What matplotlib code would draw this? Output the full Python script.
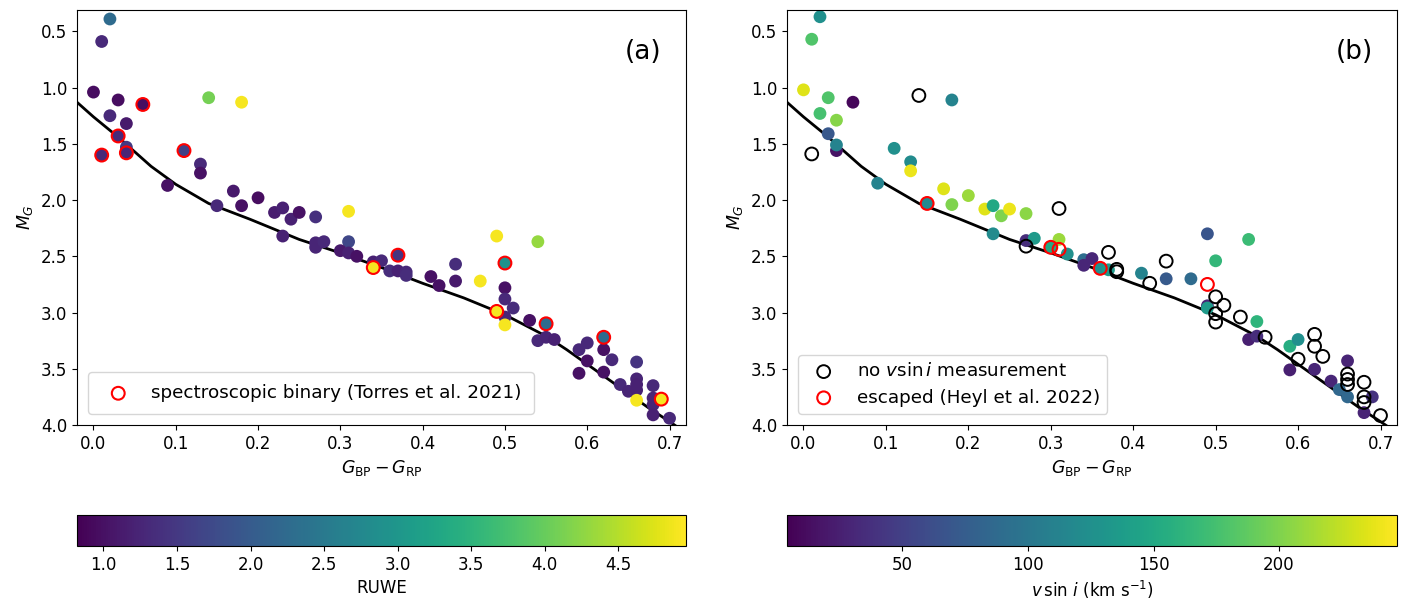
import numpy as np
import matplotlib
matplotlib.use("Agg")
import matplotlib.pyplot as plt
from matplotlib.colors import Normalize

plt.rcParams['font.family'] = ['DejaVu Sans']
plt.rcParams['font.size'] = 12

# ---------------- isochrone-like reference curve -------------
curve_x = [-0.02, 0.0, 0.03, 0.07, 0.10, 0.14, 0.19, 0.25, 0.30, 0.35, 0.40,
           0.45, 0.50, 0.55, 0.575, 0.60, 0.625, 0.65, 0.675, 0.70, 0.72]
curve_m = [1.13, 1.26, 1.44, 1.70, 1.86, 2.03, 2.17, 2.35, 2.47, 2.60, 2.74,
           2.87, 3.02, 3.21, 3.33, 3.46, 3.59, 3.72, 3.85, 3.97, 4.07]

# ---------------- panel (a): colour = RUWE ---------------------------------------
a_color = [0.02, 0.01, 0.00, 0.03, 0.06, 0.14, 0.18, 0.02, 0.04, 0.03,
           0.04, 0.04, 0.01, 0.11, 0.13, 0.13, 0.09, 0.15, 0.17, 0.18,
           0.20, 0.22, 0.23, 0.24, 0.25, 0.27, 0.31, 0.23, 0.27, 0.27,
           0.28, 0.31, 0.30, 0.31, 0.32, 0.34, 0.35, 0.34, 0.36, 0.37,
           0.37, 0.38, 0.38, 0.41, 0.42, 0.44, 0.44, 0.47, 0.49, 0.50,
           0.54, 0.50, 0.50, 0.51, 0.50, 0.49, 0.50, 0.53, 0.55, 0.54,
           0.55, 0.56, 0.62, 0.59, 0.60, 0.62, 0.60, 0.63, 0.59, 0.62,
           0.66, 0.64, 0.65, 0.66, 0.66, 0.66, 0.66, 0.68, 0.68, 0.68,
           0.69, 0.68, 0.70]
a_mag = [0.39, 0.59, 1.04, 1.11, 1.15, 1.09, 1.13, 1.25, 1.32, 1.43,
         1.53, 1.58, 1.60, 1.56, 1.68, 1.76, 1.87, 2.05, 1.92, 2.05,
         1.98, 2.11, 2.07, 2.17, 2.11, 2.15, 2.10, 2.32, 2.38, 2.42,
         2.37, 2.37, 2.45, 2.47, 2.50, 2.55, 2.54, 2.60, 2.63, 2.49,
         2.63, 2.64, 2.67, 2.68, 2.76, 2.57, 2.72, 2.72, 2.32, 2.56,
         2.37, 2.78, 2.88, 2.96, 3.04, 2.99, 3.11, 3.07, 3.10, 3.25,
         3.22, 3.24, 3.22, 3.33, 3.27, 3.33, 3.43, 3.42, 3.54, 3.53,
         3.44, 3.64, 3.70, 3.59, 3.64, 3.69, 3.78, 3.65, 3.76, 3.82,
         3.77, 3.91, 3.94]
a_ruwe = [2.25, 1.30, 0.95, 0.95, 0.95, 4.10, 4.90, 1.30, 1.10, 1.30,
          1.50, 1.25, 1.30, 1.60, 1.30, 1.00, 1.00, 1.30, 1.10, 1.00,
          0.95, 1.15, 1.20, 1.20, 1.00, 1.40, 4.90, 1.20, 1.25, 1.25,
          1.30, 1.70, 1.10, 1.20, 1.00, 1.20, 1.30, 4.90, 1.35, 1.45,
          1.20, 1.30, 1.35, 1.00, 1.00, 1.35, 1.10, 4.90, 4.90, 2.90,
          4.30, 1.00, 1.30, 1.35, 1.25, 4.90, 4.90, 1.00, 2.25, 1.30,
          1.25, 1.20, 2.25, 1.30, 1.30, 1.00, 1.00, 1.30, 1.00, 1.00,
          1.45, 1.30, 1.25, 1.25, 1.20, 1.20, 4.90, 1.30, 1.25, 1.25,
          4.90, 1.20, 1.30]
# spectroscopic binaries (Torres et al. 2021)
bin_color = [0.06, 0.03, 0.04, 0.01, 0.11, 0.34, 0.37, 0.50, 0.49, 0.55, 0.62, 0.69]
bin_mag = [1.15, 1.43, 1.58, 1.60, 1.56, 2.60, 2.49, 2.56, 2.99, 3.10, 3.22, 3.77]

# ---------------- panel (b): colour = v sin i -------------------------------------
b_color = [0.02, 0.01, 0.00, 0.03, 0.06, 0.18, 0.02, 0.04, 0.03, 0.04,
           0.04, 0.11, 0.13, 0.13, 0.09, 0.15, 0.17, 0.18, 0.20, 0.22,
           0.23, 0.24, 0.25, 0.27, 0.23, 0.27, 0.28, 0.31, 0.30, 0.32,
           0.34, 0.34, 0.35, 0.36, 0.37, 0.41, 0.44, 0.47, 0.49, 0.54,
           0.50, 0.49, 0.49, 0.55, 0.54, 0.55, 0.59, 0.60, 0.59, 0.62,
           0.64, 0.65, 0.66, 0.66, 0.69, 0.68]
b_mag = [0.37, 0.57, 1.02, 1.09, 1.13, 1.11, 1.23, 1.29, 1.41, 1.56,
         1.51, 1.54, 1.66, 1.74, 1.85, 2.03, 1.90, 2.04, 1.96, 2.08,
         2.05, 2.14, 2.08, 2.12, 2.30, 2.36, 2.34, 2.35, 2.42, 2.48,
         2.53, 2.58, 2.52, 2.61, 2.62, 2.65, 2.70, 2.70, 2.30, 2.35,
         2.54, 2.94, 2.96, 3.08, 3.24, 3.21, 3.30, 3.24, 3.51, 3.505,
         3.61, 3.685, 3.75, 3.43, 3.75, 3.89]
b_vsini = [125, 180, 235, 180, 8, 113, 175, 203, 70, 16,
           113, 125, 120, 240, 113, 118, 235, 200, 210, 235,
           150, 200, 240, 205, 120, 35, 135, 210, 150, 125,
           90, 30, 30, 125, 135, 113, 72, 88, 68, 170,
           165, 30, 135, 162, 25, 35, 155, 125, 25, 30,
           30, 85, 85, 28, 40, 28]
# stars without v sin i
nov_color = [0.14, 0.01, 0.31, 0.27, 0.37, 0.38, 0.38, 0.42, 0.44, 0.50,
             0.51, 0.50, 0.50, 0.53, 0.56, 0.60, 0.62, 0.62, 0.63, 0.66,
             0.66, 0.66, 0.68, 0.68, 0.68, 0.70]
nov_mag = [1.07, 1.59, 2.075, 2.41, 2.465, 2.616, 2.637, 2.74, 2.543, 2.86,
           2.935, 3.01, 3.085, 3.04, 3.22, 3.415, 3.194, 3.30, 3.39, 3.547,
           3.595, 3.64, 3.62, 3.75, 3.80, 3.916]
# escaped stars (Heyl et al. 2022)
esc_color = [0.15, 0.30, 0.31, 0.36, 0.49]
esc_mag = [2.03, 2.42, 2.438, 2.607, 2.75]

# ---------------- figure ----------------------------------------------------------
W, H = 1409, 601
fig = plt.figure(figsize=(W / 100, H / 100), dpi=100)

def box(l, t, r, b):
    return [l / W, 1 - b / H, (r - l) / W, (b - t) / H]

ax_a = fig.add_axes(box(77, 10, 686, 425))
cax_a = fig.add_axes(box(77, 515, 686, 546))
ax_b = fig.add_axes(box(787, 10, 1397, 425))
cax_b = fig.add_axes(box(787, 515, 1397, 546))

ms = 85
norm_a = Normalize(vmin=0.82, vmax=4.96)
norm_b = Normalize(vmin=4, vmax=247)

# panel (a)
ax_a.plot(curve_x, curve_m, color='black', lw=2, zorder=1)
sc_a = ax_a.scatter(a_color, a_mag, c=a_ruwe, cmap='viridis', norm=norm_a,
                    s=ms, edgecolors='none', zorder=2)
ax_a.scatter(bin_color, bin_mag, s=ms, facecolors='none', edgecolors='red',
             linewidths=1.5, zorder=3, label='spectroscopic binary (Torres et al. 2021)')
ax_a.legend(loc='lower left', fontsize=13.2, borderaxespad=0.6, borderpad=0.65)
ax_a.text(0.96, 0.93, '(a)', transform=ax_a.transAxes, ha='right', va='top', fontsize=19)

# panel (b)
ax_b.plot(curve_x, curve_m, color='black', lw=2, zorder=1)
sc_b = ax_b.scatter(b_color, b_mag, c=b_vsini, cmap='viridis', norm=norm_b,
                    s=ms, edgecolors='none', zorder=2)
ax_b.scatter(nov_color, nov_mag, s=ms, facecolors='none', edgecolors='black',
             linewidths=1.4, zorder=3, label=r'no $v\sin i$ measurement')
ax_b.scatter(esc_color, esc_mag, s=ms, facecolors='none', edgecolors='red',
             linewidths=1.5, zorder=4, label='escaped (Heyl et al. 2022)')
ax_b.legend(loc='lower left', fontsize=13.2, borderaxespad=0.6, labelspacing=0.45)
ax_b.text(0.96, 0.93, '(b)', transform=ax_b.transAxes, ha='right', va='top', fontsize=19)

for ax in (ax_a, ax_b):
    ax.set_xlim(-0.02, 0.72)
    ax.set_ylim(4.0, 0.31)
    ax.set_xticks([0.0, 0.1, 0.2, 0.3, 0.4, 0.5, 0.6, 0.7])
    ax.set_yticks([0.5, 1.0, 1.5, 2.0, 2.5, 3.0, 3.5, 4.0])
    ax.set_xlabel(r'$G_{\rm BP} - G_{\rm RP}$', fontsize=12.5)
    ax.set_ylabel(r'$M_G$', fontsize=12.5)

cb_a = fig.colorbar(sc_a, cax=cax_a, orientation='horizontal')
cb_a.set_ticks([1.0, 1.5, 2.0, 2.5, 3.0, 3.5, 4.0, 4.5])
cb_a.set_label('RUWE', fontsize=12)
cb_b = fig.colorbar(sc_b, cax=cax_b, orientation='horizontal')
cb_b.set_ticks([50, 100, 150, 200])
cb_b.set_label(r'$v\,\sin\,i$ (km s$^{-1}$)', fontsize=12)

fig.savefig('out.png', dpi=100)
